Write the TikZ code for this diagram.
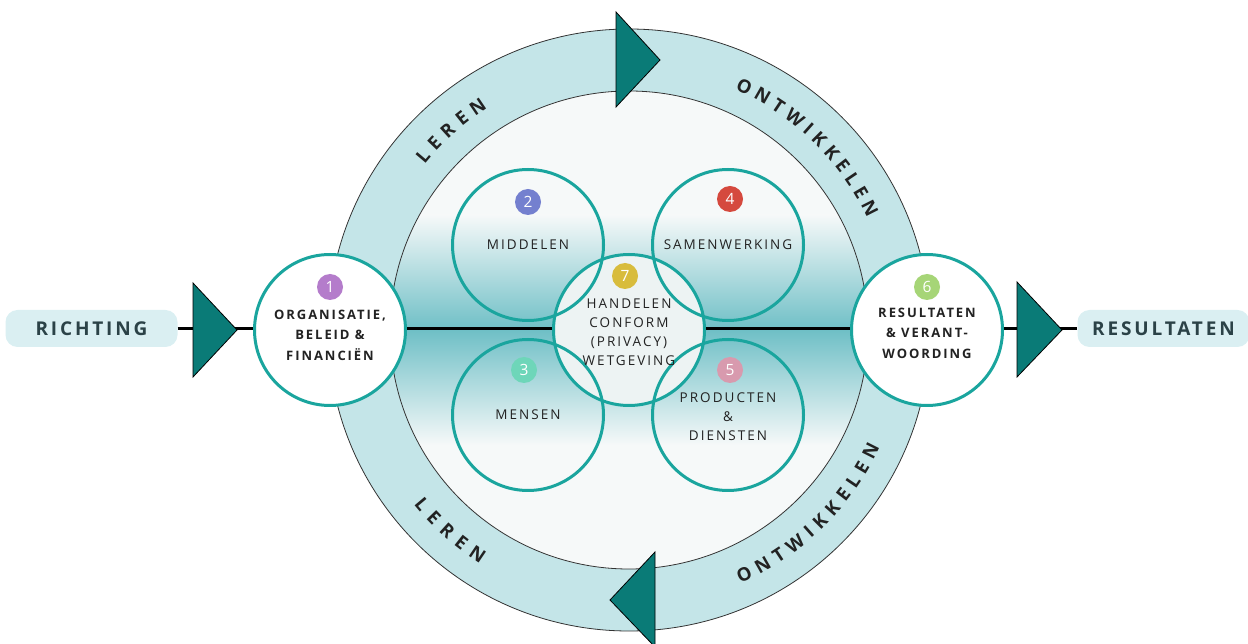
\documentclass[tikz,border=0pt]{standalone}
\usepackage{fontspec}
\setmainfont{Open Sans}
\newfontfamily\spacedfont{Open Sans}[LetterSpace=15]
\usetikzlibrary{decorations.text}
\definecolor{ringfill}{HTML}{C4E5E8}
\definecolor{discfill}{HTML}{F6F9F9}
\definecolor{bandteal}{HTML}{6FBFC6}
\definecolor{tealline}{HTML}{1AA59E}
\definecolor{arrowfill}{HTML}{0A7B77}
\definecolor{pillfill}{HTML}{DAEFF2}
\definecolor{pilltext}{HTML}{2B4247}
\definecolor{centrefill}{HTML}{EDF3F3}
\definecolor{labeltext}{HTML}{222222}
\definecolor{numA}{HTML}{B47CCB}
\definecolor{numB}{HTML}{7480CF}
\definecolor{numC}{HTML}{6ED6B9}
\definecolor{numD}{HTML}{D5493E}
\definecolor{numE}{HTML}{D89AAE}
\definecolor{numF}{HTML}{A6D577}
\definecolor{numG}{HTML}{D8BC3C}
\newcommand{\ringfont}{\bfseries\fontsize{18.5}{18.5}\selectfont\color{labeltext}}
\tikzset{
    CC1/.style ={circle, minimum size=151pt, inner sep=0pt, draw=tealline, line width=3pt},
    CC2/.style ={CC1, fill=white},
    CC3/.style ={CC1, fill=centrefill},
    BD/.style ={circle, minimum size=26pt, inner sep=0pt, text=white, font=\fontsize{15.5}{15.5}\selectfont},
    LB1/.style ={align=center, text=labeltext, inner sep=0pt, font=\spacedfont\fontsize{13.5}{19}\selectfont},
    LB2/.style ={align=center, text=labeltext, inner sep=0pt, font=\spacedfont\bfseries\fontsize{13}{20.5}\selectfont},
    RA1/.style ={rectangle, rounded corners=12pt, minimum width=172pt, minimum height=37pt, fill=pillfill, text=pilltext, font=\spacedfont\bfseries\fontsize{19}{19}\selectfont},
    TR/.style ={fill=arrowfill, draw=black, line width=0.8pt},
    RT/.style ={decorate, decoration={text along path, text align=fit to path, text={|\ringfont|#1}}}}

\begin{document}
\begin{tikzpicture}[x=1pt, y=1pt]
        \useasboundingbox (0,0) rectangle (1248,643);
        \coordinate (C) at (629,313);
        % ring and inner disc
        \fill[ringfill, even odd rule] (C) circle (301) (C) circle (239);
        \draw[line width=0.8pt, black!80] (C) circle (301);
        \fill[discfill] (C) circle (239);
        \begin{scope}
            \clip (C) circle (239);
            \shade[top color=discfill, middle color=bandteal!35!discfill, bottom color=bandteal] (380,313) rectangle (880,428);
            \shade[top color=bandteal, middle color=bandteal!35!discfill, bottom color=discfill] (380,198) rectangle (880,313);
        \end{scope}
        \draw[line width=0.8pt, black!80] (C) circle (239);
        % ring labels
        \path[RT=LEREN] (C) ++(141:263) arc[start angle=141, end angle=122.5, radius=263];
        \path[RT=ONTWIKKELEN] (C) ++(66.3:263) arc[start angle=66.3, end angle=25.1, radius=263];
        \path[RT=LEREN] (C) ++(219:277) arc[start angle=219, end angle=237.5, radius=277];
        \path[RT=ONTWIKKELEN] (C) ++(293.7:277) arc[start angle=293.7, end angle=334.9, radius=277];
        % ring arrows
        \filldraw[TR] (616,631) -- (660,583) -- (616,536) -- cycle;
        \filldraw[TR] (655,91) -- (610,43) -- (655,-4) -- cycle;
        % start and end
        \node[RA1] (richting) at (91.5,314.5) {RICHTING};
        \node[RA1] (resultaten) at (1163.5,314.5) {RESULTATEN};
        \draw[line width=3.5pt] (richting.east) -- (resultaten.west);
        % circles
        \node[CC3] (handelen) at (629,313) {};
        \node[CC1] (middelen) at (528,398) {};
        \node[CC1] (samenwerking) at (728,398) {};
        \node[CC1] (mensen) at (528,228) {};
        \node[CC1] (producten) at (728,228) {};
        \node[CC2] (organisatie) at (330,313) {};
        \node[CC2] (verantwoording) at (927,313) {};
        \filldraw[TR] (193,360) -- (237,313) -- (193,266) -- cycle;
        \filldraw[TR] (1017,361) -- (1062,313) -- (1017,266) -- cycle;
        % numbers and texts
        \node[BD, fill=numA] (n1) at ([yshift=43pt]organisatie.center) {1};
        \node[LB2] (t1) at ([yshift=-5pt]organisatie.center) {ORGANISATIE,\\BELEID \&\\FINANCIËN};
        \node[BD, fill=numB] (n2) at ([yshift=43pt]middelen.center) {2};
        \node[LB1] (t2) at (middelen.center) {MIDDELEN};
        \node[BD, fill=numC] (n3) at ([xshift=-4pt,yshift=45pt]mensen.center) {3};
        \node[LB1] (t3) at (mensen.center) {MENSEN};
        \node[BD, fill=numD] (n4) at ([xshift=2pt,yshift=46pt]samenwerking.center) {4};
        \node[LB1] (t4) at (samenwerking.center) {SAMENWERKING};
        \node[BD, fill=numE] (n5) at ([xshift=2pt,yshift=45pt]producten.center) {5};
        \node[LB1] (t5) at ([yshift=-2pt]producten.center) {PRODUCTEN\\\&\\DIENSTEN};
        \node[BD, fill=numF] (n6) at ([yshift=43pt]verantwoording.center) {6};
        \node[LB2] (t6) at ([yshift=-3pt]verantwoording.center) {RESULTATEN\\\& VERANT-\\WOORDING};
        \node[BD, fill=numG] (n7) at ([xshift=-4pt,yshift=54pt]handelen.center) {7};
        \node[LB1] (t7) at ([yshift=-2pt]handelen.center) {HANDELEN\\CONFORM\\(PRIVACY)\\WETGEVING};
\end{tikzpicture}
\end{document}
